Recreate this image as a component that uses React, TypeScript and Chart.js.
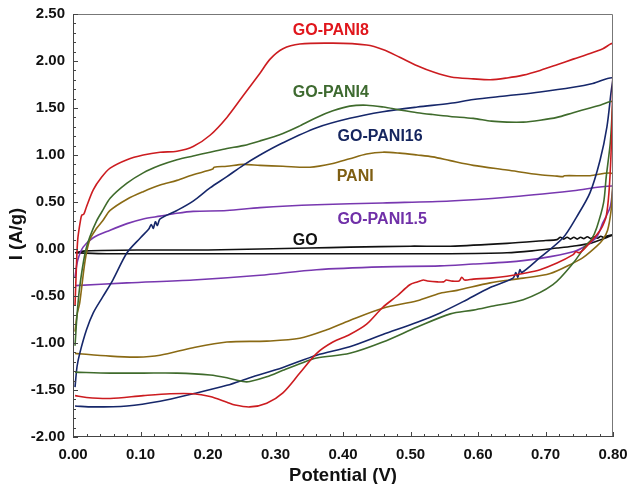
import React, { useEffect, useRef } from 'react';
import { Chart, registerables } from 'chart.js';

Chart.register(...registerables);

// ---------- data (potential V, current A/g), forward scan then reverse scan ----------
const pani8V = [0.003, 0.005, 0.007, 0.011, 0.013, 0.016, 0.02, 0.03, 0.042, 0.055, 0.08, 0.104, 0.129, 0.154, 0.178, 0.203, 0.228, 0.252, 0.277, 0.292, 0.311, 0.336, 0.385, 0.435, 0.46, 0.484, 0.51, 0.535, 0.56, 0.593, 0.618, 0.643, 0.667, 0.692, 0.717, 0.741, 0.766, 0.785, 0.8,
  0.799, 0.797, 0.794, 0.79, 0.785, 0.781, 0.77, 0.756, 0.75, 0.745, 0.741, 0.717, 0.692, 0.667, 0.643, 0.618, 0.593, 0.58, 0.576, 0.572, 0.56, 0.553, 0.549, 0.54, 0.525, 0.519, 0.51, 0.499, 0.48, 0.459, 0.435, 0.41, 0.385, 0.361, 0.336, 0.311, 0.287, 0.262, 0.24, 0.228, 0.203, 0.178, 0.144, 0.104, 0.055, 0.02, 0.003];
const pani8I = [-0.6, -0.2, 0.1, 0.3, 0.36, 0.37, 0.45, 0.63, 0.76, 0.86, 0.95, 1.0, 1.03, 1.04, 1.09, 1.21, 1.4, 1.63, 1.87, 2.02, 2.13, 2.18, 2.19, 2.17, 2.12, 2.04, 1.95, 1.88, 1.83, 1.81, 1.8, 1.82, 1.85, 1.9, 1.96, 2.02, 2.08, 2.13, 2.18,
  1.5, 1.0, 0.6, 0.35, 0.25, 0.2, 0.1, -0.01, -0.04, -0.03, -0.06, -0.15, -0.22, -0.26, -0.29, -0.31, -0.32, -0.33, -0.3, -0.34, -0.34, -0.33, -0.35, -0.35, -0.34, -0.33, -0.35, -0.38, -0.5, -0.62, -0.8, -0.91, -0.99, -1.11, -1.32, -1.53, -1.64, -1.68, -1.66, -1.63, -1.57, -1.54, -1.54, -1.56, -1.59, -1.58, -1.56];

const pani4V = [0.003, 0.006, 0.01, 0.018, 0.025, 0.035, 0.044, 0.055, 0.08, 0.104, 0.129, 0.154, 0.178, 0.203, 0.228, 0.252, 0.277, 0.311, 0.336, 0.361, 0.385, 0.41, 0.435, 0.46, 0.484, 0.51, 0.533, 0.559, 0.593, 0.62, 0.643, 0.667, 0.692, 0.717, 0.741, 0.766, 0.781, 0.8,
  0.799, 0.796, 0.79, 0.786, 0.776, 0.768, 0.761, 0.741, 0.711, 0.667, 0.62, 0.593, 0.559, 0.51, 0.459, 0.41, 0.361, 0.336, 0.311, 0.287, 0.262, 0.252, 0.228, 0.203, 0.154, 0.104, 0.055, 0.003];
const pani4I = [-1.03, -0.7, -0.4, -0.04, 0.13, 0.3, 0.41, 0.54, 0.7, 0.81, 0.89, 0.95, 0.99, 1.03, 1.07, 1.1, 1.15, 1.23, 1.31, 1.4, 1.47, 1.52, 1.53, 1.51, 1.48, 1.45, 1.43, 1.41, 1.39, 1.36, 1.35, 1.35, 1.37, 1.4, 1.45, 1.5, 1.53, 1.57,
  1.48, 1.13, 0.77, 0.49, 0.23, 0.1, 0.05, -0.15, -0.38, -0.54, -0.61, -0.65, -0.69, -0.83, -0.99, -1.11, -1.16, -1.22, -1.29, -1.36, -1.41, -1.41, -1.37, -1.34, -1.32, -1.32, -1.32, -1.31];

const pani16V = [0.003, 0.006, 0.01, 0.02, 0.03, 0.044, 0.059, 0.08, 0.1, 0.112, 0.116, 0.119, 0.122, 0.125, 0.129, 0.154, 0.178, 0.203, 0.228, 0.252, 0.277, 0.311, 0.361, 0.41, 0.459, 0.51, 0.559, 0.593, 0.643, 0.692, 0.741, 0.77, 0.8,
  0.797, 0.791, 0.781, 0.766, 0.746, 0.726, 0.692, 0.665, 0.662, 0.659, 0.656, 0.652, 0.618, 0.578, 0.544, 0.51, 0.459, 0.41, 0.361, 0.311, 0.262, 0.228, 0.178, 0.129, 0.08, 0.03, 0.003];
const pani16I = [-1.47, -1.25, -1.11, -0.86, -0.68, -0.51, -0.33, -0.04, 0.12, 0.21, 0.26, 0.22, 0.29, 0.25, 0.32, 0.41, 0.51, 0.65, 0.77, 0.89, 1.0, 1.13, 1.29, 1.39, 1.46, 1.51, 1.55, 1.59, 1.63, 1.67, 1.72, 1.76, 1.82,
  1.66, 1.3, 0.95, 0.6, 0.34, 0.12, -0.09, -0.25, -0.22, -0.3, -0.25, -0.31, -0.41, -0.56, -0.68, -0.78, -0.91, -1.04, -1.13, -1.26, -1.37, -1.45, -1.54, -1.62, -1.67, -1.68, -1.67];

const paniV = [0.003, 0.006, 0.01, 0.018, 0.025, 0.035, 0.044, 0.055, 0.08, 0.104, 0.129, 0.154, 0.178, 0.207, 0.209, 0.228, 0.252, 0.277, 0.311, 0.351, 0.385, 0.41, 0.435, 0.459, 0.484, 0.51, 0.533, 0.559, 0.593, 0.643, 0.692, 0.717, 0.726, 0.728, 0.766, 0.8,
  0.799, 0.797, 0.792, 0.785, 0.776, 0.756, 0.741, 0.707, 0.667, 0.618, 0.569, 0.544, 0.51, 0.459, 0.41, 0.376, 0.336, 0.287, 0.228, 0.178, 0.129, 0.095, 0.055, 0.003];
const paniI = [-0.88, -0.7, -0.57, -0.12, 0.1, 0.22, 0.3, 0.41, 0.53, 0.61, 0.68, 0.73, 0.79, 0.85, 0.87, 0.88, 0.9, 0.89, 0.88, 0.87, 0.91, 0.96, 1.01, 1.03, 1.02, 1.0, 0.98, 0.94, 0.89, 0.84, 0.79, 0.775, 0.77, 0.78, 0.78, 0.8,
  0.6, 0.4, 0.2, 0.1, 0.03, -0.09, -0.15, -0.26, -0.31, -0.36, -0.44, -0.47, -0.55, -0.63, -0.76, -0.86, -0.95, -0.98, -0.99, -1.05, -1.13, -1.15, -1.14, -1.11];

const pani15V = [0.003, 0.007, 0.015, 0.03, 0.055, 0.08, 0.104, 0.129, 0.154, 0.178, 0.228, 0.277, 0.361, 0.459, 0.559, 0.643, 0.741, 0.8,
  0.799, 0.796, 0.79, 0.785, 0.776, 0.761, 0.741, 0.692, 0.643, 0.593, 0.544, 0.459, 0.361, 0.277, 0.178, 0.08, 0.003];
const pani15I = [-0.3, -0.12, 0.02, 0.12, 0.2, 0.27, 0.32, 0.35, 0.38, 0.4, 0.41, 0.44, 0.47, 0.49, 0.51, 0.55, 0.62, 0.67,
  0.6, 0.45, 0.35, 0.28, 0.13, 0.04, -0.03, -0.1, -0.14, -0.16, -0.18, -0.19, -0.22, -0.28, -0.33, -0.36, -0.39];

const goV = [0.003, 0.02, 0.1, 0.2, 0.277, 0.35, 0.41, 0.5, 0.559, 0.643, 0.7, 0.717, 0.722, 0.727, 0.732, 0.737, 0.742, 0.747, 0.752, 0.757, 0.762, 0.767, 0.772, 0.777, 0.782, 0.787, 0.792, 0.8,
  0.79, 0.766, 0.74, 0.717, 0.68, 0.643, 0.559, 0.45, 0.35, 0.262, 0.15, 0.05, 0.003];
const goI = [-0.04, -0.02, -0.01, -0.01, 0.0, 0.01, 0.02, 0.03, 0.03, 0.06, 0.09, 0.1, 0.125, 0.105, 0.125, 0.105, 0.125, 0.105, 0.125, 0.11, 0.13, 0.11, 0.13, 0.115, 0.135, 0.12, 0.14, 0.15,
  0.12, 0.06, 0.03, 0.01, -0.02, -0.04, -0.05, -0.05, -0.05, -0.05, -0.05, -0.05, -0.04];

const seriesNames = ['GO-PANI8', 'GO-PANI4', 'GO-PANI16', 'PANI', 'GO-PANI1.5', 'GO'];
const seriesV = [pani8V, pani4V, pani16V, paniV, pani15V, goV];
const seriesI = [pani8I, pani4I, pani16I, paniI, pani15I, goI];
const lineColors = ['#cc1c20', '#3f6b2c', '#16276a', '#8a6a14', '#7838b0', '#111111'];
const textColors = ['#e0161c', '#3e6a30', '#15255e', '#7e5e12', '#7030a8', '#111111'];
// label anchor positions in data units (potential, current)
const labelV = [0.382, 0.382, 0.455, 0.418, 0.458, 0.344];
const labelI = [2.32, 1.66, 1.2, 0.77, 0.31, 0.09];

const xTitle = 'Potential (V)';
const yTitle = 'I (A/g)';

const FONT = '"Liberation Sans", Arial, sans-serif';

const decorPlugin = {
  id: 'decor',
  afterDraw(chart: any) {
    const { ctx, chartArea } = chart;
    const xs = chart.scales.x;
    const ys = chart.scales.y;
    const { left, right, top, bottom } = chartArea;
    ctx.save();
    // frame
    ctx.strokeStyle = '#777';
    ctx.lineWidth = 1;
    ctx.beginPath();
    ctx.moveTo(left + 0.5, top + 0.5);
    ctx.lineTo(right - 0.5, top + 0.5);
    ctx.lineTo(right - 0.5, bottom - 0.5);
    ctx.stroke();
    ctx.strokeStyle = '#444';
    ctx.beginPath();
    ctx.moveTo(left + 0.5, top);
    ctx.lineTo(left + 0.5, bottom - 0.5);
    ctx.lineTo(right, bottom - 0.5);
    ctx.stroke();
    // inner ticks
    ctx.strokeStyle = '#444';
    ctx.beginPath();
    for (let k = 0; k <= 45; k++) {
      const v = -2 + k * 0.1;
      const p = Math.round(ys.getPixelForValue(v)) + 0.5;
      const len = k % 5 === 0 ? 5 : 3;
      ctx.moveTo(left, p);
      ctx.lineTo(left + len, p);
    }
    for (let k = 0; k <= 40; k++) {
      const v = k * 0.02;
      const p = Math.round(xs.getPixelForValue(v)) + 0.5;
      const len = k % 5 === 0 ? 5 : 3;
      ctx.moveTo(p, bottom);
      ctx.lineTo(p, bottom - len);
    }
    ctx.stroke();
    // series labels
    ctx.font = `bold 16px ${FONT}`;
    ctx.textAlign = 'center';
    ctx.textBaseline = 'middle';
    seriesNames.forEach((n, i) => {
      ctx.fillStyle = textColors[i];
      ctx.fillText(n, xs.getPixelForValue(labelV[i]), ys.getPixelForValue(labelI[i]));
    });
    // axis titles
    ctx.fillStyle = '#111';
    ctx.font = `bold 18.5px ${FONT}`;
    ctx.fillText(xTitle, (left + right) / 2, 476);
    ctx.translate(17, 234);
    ctx.rotate(-Math.PI / 2);
    ctx.fillText(yTitle, 0, 0);
    ctx.restore();
  },
};

export default function App() {
  const ref = useRef<HTMLCanvasElement | null>(null);
  useEffect(() => {
    document.body.style.margin = '0';
    if (!ref.current) return;
    const tickFont = { family: FONT, size: 15, weight: 'bold' as const };
    const chart = new Chart(ref.current, {
      type: 'scatter',
      data: {
        datasets: seriesNames.map((name, i) => ({
          label: name,
          data: seriesV[i].map((v, j) => ({ x: v, y: seriesI[i][j] })),
          showLine: true,
          borderColor: lineColors[i],
          backgroundColor: lineColors[i],
          borderWidth: 1.6,
          pointRadius: 0,
          tension: 0.3,
          fill: false,
        })),
      },
      options: {
        animation: false,
        responsive: false,
        maintainAspectRatio: false,
        layout: { padding: { left: 0, right: 15, top: 14, bottom: 0 } },
        plugins: { legend: { display: false }, tooltip: { enabled: false } },
        scales: {
          x: {
            type: 'linear',
            min: 0,
            max: 0.8,
            ticks: {
              stepSize: 0.1,
              autoSkip: false,
              maxRotation: 0,
              padding: 9,
              color: '#111',
              font: tickFont,
              callback: (v: any) => Number(v).toFixed(2),
            },
            grid: { display: false, drawTicks: false },
            border: { display: false },
            afterFit: (s: any) => { s.height = 47; s.paddingLeft = 0; s.paddingRight = 0; },
          },
          y: {
            type: 'linear',
            min: -2,
            max: 2.5,
            ticks: {
              stepSize: 0.5,
              autoSkip: false,
              padding: 8,
              color: '#111',
              font: tickFont,
              callback: (v: any) => Number(v).toFixed(2),
            },
            grid: { display: false, drawTicks: false },
            border: { display: false },
            afterFit: (s: any) => { s.width = 73; s.paddingTop = 0; s.paddingBottom = 0; },
          },
        },
      },
      plugins: [decorPlugin],
    });
    return () => chart.destroy();
  }, []);
  return (
    <div style={{ width: 628, height: 484 }}>
      <canvas ref={ref} width={628} height={484} style={{ display: 'block' }} />
    </div>
  );
}
